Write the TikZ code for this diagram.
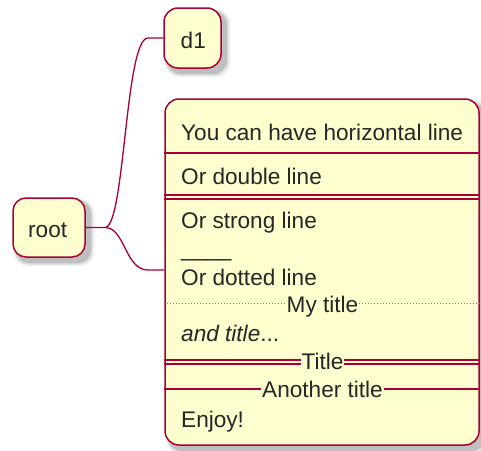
\documentclass[tikz,border=0pt]{standalone}
\usepackage{fontspec}
\setmainfont{Liberation Sans}
\usetikzlibrary{calc}
\definecolor{pfill}{HTML}{FEFECE}
\definecolor{pline}{HTML}{A80036}
\newcommand\myfs{\fontsize{22.6}{27}\selectfont}
\newcommand\myshadow[5]{%
  \fill[black,opacity=0.06,rounded corners=#5] (#1+1,#2+1) rectangle (#3+9,#4+9);
  \fill[black,opacity=0.09,rounded corners=#5] (#1+2,#2+2) rectangle (#3+7.5,#4+7.5);
  \fill[black,opacity=0.12,rounded corners=#5] (#1+3,#2+3) rectangle (#3+6,#4+6);
}
\begin{document}
\begin{tikzpicture}[x=1pt,y=-1pt,
  box/.style={draw=pline,fill=pfill,line width=1.5pt,rounded corners=14pt,inner sep=0pt},
  txt/.style={inner sep=0pt,anchor=base west,font=\myfs,text=black!85},
  ttl/.style={inner sep=0pt,inner xsep=1pt,anchor=base,font=\myfs,text=black!85,fill=pfill},
  conn/.style={draw=pline,line width=1.3pt},
  sep/.style={draw=pline,line width=1.2pt},
  dotsep/.style={draw=pline!65,line width=1pt,dash pattern=on 1.2pt off 1.8pt}]
\useasboundingbox (0,0) rectangle (481,450);
% shadows
\myshadow{13}{198}{85}{257}{13pt}
\myshadow{164}{8}{221}{68}{14pt}
\myshadow{165}{99}{479}{445}{14pt}
% nodes
\node[box,minimum width=72pt,minimum height=59pt,rounded corners=13pt] (root) at (49,227.5) {};
\node[txt] (roottxt) at (28,237) {root};
\node[box,minimum width=57pt,minimum height=60pt] (d1) at (192.5,38) {};
\node[txt] (d1txt) at (180.5,48) {d1};
\node[box,minimum width=314pt,minimum height=346pt] (big) at (322,272) {};
\coordinate (bj) at (big.west |- 0,270);
% separators
\draw[sep] (big.west |- 0,153) -- (big.east |- 0,153);
\draw[sep] (big.west |- 0,195) -- (big.east |- 0,195);
\draw[sep] (big.west |- 0,199) -- (big.east |- 0,199);
\draw[dotsep] (big.west |- 0,303) -- (big.east |- 0,303);
\draw[sep] (big.west |- 0,360) -- (big.east |- 0,360);
\draw[sep] (big.west |- 0,364) -- (big.east |- 0,364);
\draw[sep] (big.west |- 0,389) -- (big.east |- 0,389);
% texts
\node[txt] (t1) at (181,140) {You can have horizontal line};
\node[txt] (t2) at (181,184) {Or double line};
\node[txt] (t3) at (181,228) {Or strong line};
\node[txt] (t4) at (181,256) {\_\_\_\_};
\node[txt] (t5) at (181,285) {Or dotted line};
\node[ttl] (t6) at (322.5,312.7) {My title};
\node[txt] (t7) at (181,341) {\textit{and title}...};
\node[ttl] (t8) at (322.5,369.3) {Title};
\node[ttl] (t9) at (322.5,397.3) {Another title};
\node[txt] (t10) at (181,427) {Enjoy!};
% connectors
\draw[conn] (root.east) -- (105,227.5) coordinate (j)
  .. controls (125,227.5) and (125,38) .. (148,38) -- (d1.west);
\draw[conn] (j) .. controls (125,227.5) and (125,270) .. (148,270) -- (bj);
\end{tikzpicture}
\end{document}
